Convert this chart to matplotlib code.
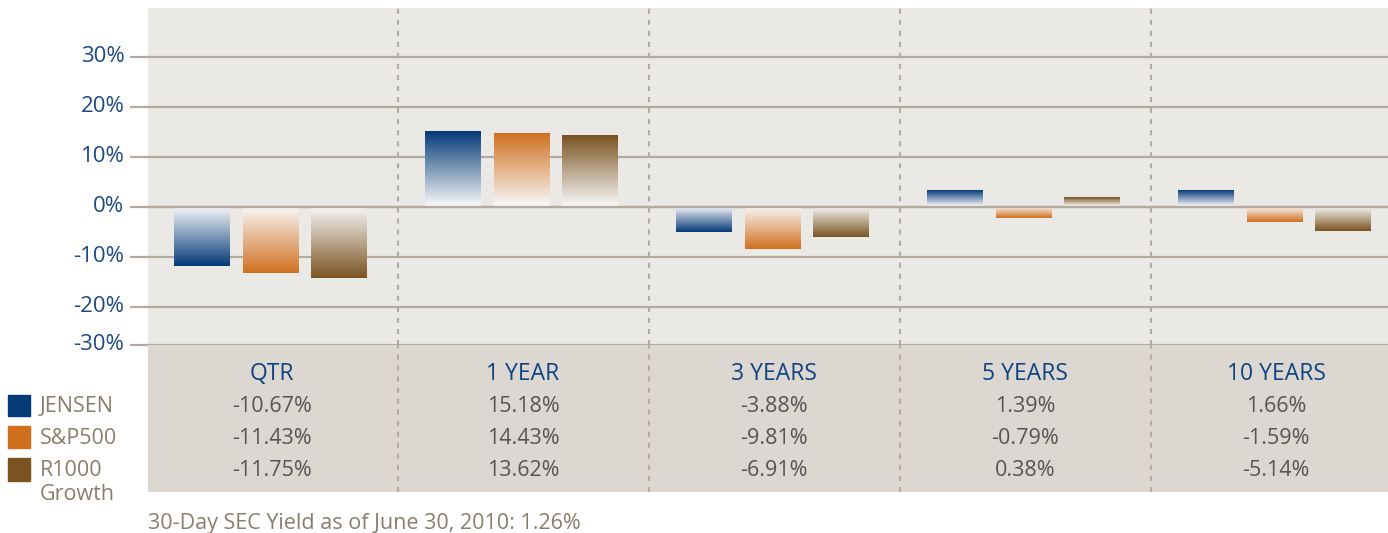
import matplotlib
matplotlib.use("Agg")
import matplotlib.pyplot as plt
import numpy as np
from matplotlib.colors import LinearSegmentedColormap
from matplotlib.transforms import ScaledTranslation

# ---------------- data ----------------
periods = ["QTR", "1 YEAR", "3 YEARS", "5 YEARS", "10 YEARS"]
series_names = ["JENSEN", "S&P500", "R1000", "Growth"]
# bar heights as drawn in the picture (%)
jensen_bars = [-11.9, 14.9, -5.2, 3.1, 3.1]
sp500_bars = [-13.3, 14.5, -8.5, -2.3, -3.2]
r1000_bars = [-14.3, 14.1, -6.2, 1.7, -4.9]
# table values (text)
jensen_table = ["-10.67%", "15.18%", "-3.88%", "1.39%", "1.66%"]
sp500_table = ["-11.43%", "14.43%", "-9.81%", "-0.79%", "-1.59%"]
r1000_table = ["-11.75%", "13.62%", "-6.91%", "0.38%", "-5.14%"]
ytick_vals = [30, 20, 10, 0, -10, -20]
ytick_labels = ["30%", "20%", "10%", "0%", "-10%", "-20%"]
bottom_label = "-30%"
footer = "30-Day SEC Yield as of June 30, 2010: 1.26%"

series_colors = ["#043a78", "#d0701f", "#7a5320"]
plot_bg = "#ebe9e5"
table_bg = "#dcd7d1"
grid_c = "#b3aaa0"
tick_c = "#1c4a82"
head_c = "#0e4382"
val_c = "#555555"
legend_c = "#8b7d6c"

plt.rcParams['font.family'] = ['Open Sans', 'DejaVu Sans']

W, H = 1388, 533
fig = plt.figure(figsize=(W / 100, H / 100), dpi=100)
fig.patch.set_facecolor("white")

def fx(px):
    return px / W

def fy(py):
    return 1 - py / H

left_px, right_px = 148, 1388
top_px, mid_px, bot_px = 8, 345, 492

ax = fig.add_axes([fx(left_px), fy(mid_px), fx(right_px - left_px), (mid_px - top_px) / H])
ax.set_facecolor(plot_bg)
xlim = (-0.494, 4.446)
ylim = (-27.7, 39.7)
ax.set_xlim(*xlim)
ax.set_ylim(*ylim)
for s in ax.spines.values():
    s.set_visible(False)

# gridlines (including bottom boundary)
for v in ytick_vals + [ylim[0]]:
    ax.axhline(v, color=grid_c, lw=1.6, zorder=1, clip_on=False)

ax.set_yticks(ytick_vals + [ylim[0]])
ax.set_yticklabels(ytick_labels + [bottom_label])
ax.tick_params(axis='y', length=13, width=1.6, color=grid_c, pad=4.0,
               labelsize=16, labelcolor=tick_c)
ax.set_xticks([])
offset = ScaledTranslation(0, 3 / 100, fig.dpi_scale_trans)
for lab in ax.get_yticklabels():
    lab.set_transform(lab.get_transform() + offset)

# separators
for i in range(len(periods) - 1):
    ax.axvline(i + 0.5, color=grid_c, lw=1.5, dashes=(2.4, 2.9), zorder=1.5)

# bars with gradients
x = np.arange(len(periods))
offsets = [-0.28, -0.005, 0.265]
width = 0.22
all_bars = [jensen_bars, sp500_bars, r1000_bars]
for vals, off, col in zip(all_bars, offsets, series_colors):
    cmap = LinearSegmentedColormap.from_list("g", ["#f8f8f8", col])
    bars = ax.bar(x + off, vals, width=width, color="none", edgecolor="none", zorder=2)
    for b in bars:
        x0 = b.get_x()
        x1 = x0 + b.get_width()
        h = b.get_height()
        lo, hi = min(0, h), max(0, h)
        grad = np.linspace(0, 1, 256) if h > 0 else np.linspace(1, 0, 256)
        ax.imshow(grad.reshape(-1, 1), cmap=cmap, extent=(x0, x1, lo, hi),
                  origin='lower', aspect='auto', zorder=2, interpolation='bilinear')
ax.set_xlim(*xlim)
ax.set_ylim(*ylim)
ax.axhline(0, color=grid_c, lw=1.6, zorder=3)

# table area
tax = fig.add_axes([fx(left_px), fy(bot_px), fx(right_px - left_px), (bot_px - mid_px) / H])
tax.set_facecolor(table_bg)
tax.set_xlim(*xlim)
tax.set_ylim(bot_px - mid_px, 0)
tax.set_xticks([])
tax.set_yticks([])
for s in tax.spines.values():
    s.set_visible(False)
for i in range(len(periods) - 1):
    tax.axvline(i + 0.5, color=grid_c, lw=1.5, dashes=(2.4, 2.9), zorder=1)

row_y = [62, 94, 126]
for i, p in enumerate(periods):
    tax.text(i, 29, p, ha='center', va='center', color=head_c, fontsize=16.5)
    for r, tbl in enumerate([jensen_table, sp500_table, r1000_table]):
        tax.text(i, row_y[r], tbl[i], ha='center', va='center', color=val_c, fontsize=15.5)

# legend
sq_y = [(395, 416), (426, 448), (458, 481)]
for (y0, y1), col in zip(sq_y, series_colors):
    fig.patches.append(plt.Rectangle((fx(8), fy(y1)), fx(22), (y1 - y0) / H,
                                     transform=fig.transFigure, color=col))
for name, yc in zip(series_names, [406, 438, 470, 495]):
    fig.text(fx(40), fy(yc), name, ha='left', va='center', color=legend_c, fontsize=15.5)

fig.text(fx(148), fy(523), footer, ha='left', va='center', color=legend_c, fontsize=15.5)

fig.savefig("out.png", dpi=100, facecolor="white")
